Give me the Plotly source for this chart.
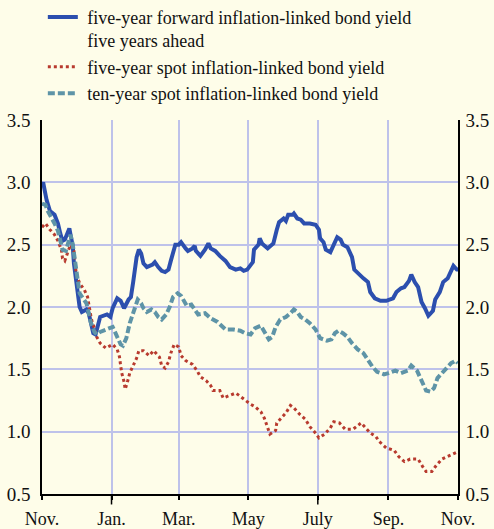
import pandas as pd
import plotly.graph_objects as go

start = pd.Timestamp("2002-11-01")

# five-year forward inflation-linked bond yield five years ahead
fwd_days = [0, 1, 4, 7, 11, 14, 16, 18, 20, 22, 24, 25, 27, 28, 30, 32, 33, 35, 39, 41, 43, 45, 47, 49,
            51, 57, 60, 62, 66, 69, 72, 76, 78, 80, 82, 83, 85, 87, 89, 92, 97, 99, 102, 105, 108, 111,
            113, 115, 117, 120, 122, 126, 128, 132, 134, 135, 139, 143, 146, 148, 152, 156, 161, 165,
            170, 174, 177, 180, 185, 186, 190, 191, 193, 198, 203, 206, 208, 212, 214, 216, 220, 221,
            224, 227, 230, 235, 240, 243, 244, 247, 249, 253, 257, 259, 262, 264, 268, 272, 274, 278,
            282, 286, 288, 292, 297, 302, 308, 311, 315, 318, 322, 324, 327, 330, 333, 336, 339, 343,
            345, 349, 352, 356, 359, 361, 364, 365]
fwd_vals = [2.97, 3.00, 2.86, 2.77, 2.74, 2.67, 2.59, 2.53, 2.54, 2.59, 2.63, 2.58, 2.49, 2.35, 2.19,
            2.08, 2.00, 1.96, 1.98, 1.95, 1.86, 1.79, 1.78, 1.86,
            1.92, 1.94, 1.92, 1.99, 2.07, 2.05, 1.99, 2.06, 2.08, 2.20, 2.32, 2.40, 2.46, 2.43, 2.35,
            2.32, 2.34, 2.36, 2.32, 2.29, 2.28, 2.30,
            2.37, 2.45, 2.50, 2.50, 2.52, 2.47, 2.45, 2.47, 2.49, 2.45, 2.41, 2.46, 2.51, 2.47, 2.45,
            2.41, 2.37, 2.32,
            2.30, 2.31, 2.29, 2.30, 2.36, 2.46, 2.50, 2.55, 2.51, 2.47, 2.51, 2.62, 2.68, 2.71, 2.69,
            2.74, 2.74, 2.75,
            2.71, 2.70, 2.67, 2.67, 2.66, 2.62, 2.55, 2.52, 2.46, 2.44, 2.52, 2.56, 2.54, 2.50, 2.48,
            2.40, 2.30, 2.26,
            2.23, 2.20, 2.12, 2.07, 2.05, 2.05, 2.07, 2.12, 2.15, 2.16, 2.21, 2.26, 2.20, 2.16, 2.04,
            1.99, 1.93, 1.97,
            2.06, 2.12, 2.20, 2.23, 2.30, 2.33, 2.30, 2.30]

# five-year spot inflation-linked bond yield
spot5_days = [0, 3, 7, 11, 14, 17, 18, 20, 23, 25, 28, 30, 33, 37, 40, 41, 43, 44, 46, 48, 51, 56, 62,
              66, 68, 69, 70, 72, 73, 75, 77, 80, 83, 85, 89, 94, 98, 103, 105, 108, 111, 113, 116,
              120, 122, 126, 132, 136, 139, 144, 148, 150, 156, 159, 164, 170, 173, 177, 183, 187,
              192, 195, 198, 200, 205, 206, 211, 214, 218, 221, 226, 231, 235, 239, 243, 248, 253,
              256, 261, 266, 273, 280, 284, 288, 293, 296, 302, 309, 313, 318, 323, 330, 334, 337,
              342, 346, 351, 356, 361, 365]
spot5_vals = [2.64, 2.67, 2.62, 2.58, 2.53, 2.46, 2.39, 2.37, 2.45, 2.50, 2.45, 2.27, 2.19, 2.14, 2.08,
              2.02, 1.92, 1.88, 1.83, 1.76, 1.71, 1.67, 1.70,
              1.66, 1.60, 1.53, 1.47, 1.40, 1.34, 1.40, 1.47, 1.53, 1.59, 1.65, 1.65, 1.61, 1.65, 1.60,
              1.53, 1.51, 1.56, 1.63, 1.70,
              1.68, 1.61, 1.57, 1.54, 1.49, 1.44, 1.41, 1.37, 1.33, 1.33, 1.27, 1.29, 1.31, 1.29, 1.26,
              1.22, 1.20,
              1.16, 1.11, 1.04, 0.98, 1.01, 1.07, 1.12, 1.15, 1.21, 1.19, 1.14, 1.10, 1.04, 1.00, 0.95,
              0.98, 1.03,
              1.08, 1.07, 1.02, 1.02, 1.07, 1.03, 0.99, 0.96, 0.92, 0.87, 0.85, 0.80, 0.76, 0.78, 0.78,
              0.72, 0.68,
              0.68, 0.73, 0.78, 0.80, 0.82, 0.84]

# ten-year spot inflation-linked bond yield
spot10_days = [0, 3, 5, 9, 11, 14, 16, 18, 21, 24, 25, 27, 29, 31, 33, 36, 39, 41, 43, 46, 48, 51, 57,
               62, 65, 69, 71, 74, 77, 81, 84, 87, 89, 92, 96, 99, 102, 105, 109, 112, 115, 119, 122,
               127, 131, 137, 143, 148, 154, 161, 168, 174, 178, 183, 187, 192, 196, 199, 202, 205,
               209, 214, 218, 221, 224, 227, 231, 235, 240, 244, 250, 254, 257, 260, 264, 268, 272,
               277, 282, 286, 290, 294, 300, 304, 310, 315, 321, 324, 329, 332, 335, 337, 341, 344,
               347, 351, 355, 359, 363, 365]
spot10_vals = [2.83, 2.82, 2.77, 2.71, 2.67, 2.61, 2.54, 2.46, 2.45, 2.55, 2.58, 2.50, 2.35, 2.22, 2.11,
               2.07, 2.03, 1.95, 1.87, 1.80, 1.78, 1.80, 1.82,
               1.84, 1.78, 1.70, 1.69, 1.75, 1.87, 1.98, 2.06, 2.03, 1.99, 1.96, 1.98, 1.96, 1.92, 1.90,
               1.94, 2.00, 2.08, 2.11, 2.09,
               2.01, 2.02, 1.94, 1.95, 1.91, 1.88, 1.82, 1.82, 1.81, 1.79, 1.78, 1.83, 1.85, 1.78, 1.74,
               1.76, 1.84,
               1.90, 1.92, 1.95, 1.98, 1.96, 1.92, 1.90, 1.87, 1.82, 1.75, 1.73, 1.74, 1.79, 1.81, 1.79,
               1.76, 1.71,
               1.66, 1.63, 1.57, 1.52, 1.48, 1.46, 1.47, 1.49, 1.47, 1.49, 1.53, 1.49, 1.43, 1.37, 1.33,
               1.32, 1.35,
               1.43, 1.47, 1.51, 1.55, 1.57, 1.55]

tick_dates = ["2002-11-01", "2003-01-01", "2003-03-01", "2003-05-01", "2003-07-01",
              "2003-09-01", "2003-11-01"]
tick_labels = ["Nov.", "Jan.", "Mar.", "May", "July", "Sep.", "Nov."]
long_tick_dates = ["2003-01-01", "2003-07-01"]
y_ticks = [0.5, 1.0, 1.5, 2.0, 2.5, 3.0, 3.5]

PAD = "\u00a0"
names = [PAD + "five-year forward inflation-linked bond yield<br>" + PAD + "five years ahead",
         PAD + "five-year spot inflation-linked bond yield",
         PAD + "ten-year spot inflation-linked bond yield"]


def to_dates(days):
    return [d.strftime("%Y-%m-%d") for d in start + pd.to_timedelta(days, unit="D")]


BG = "#FEFDE9"
BLUE = "#2C4FAE"
RED = "#B83A2E"
TEAL = "#5E94A7"
GRID = "#BEC2EA"
FONT = "Liberation Serif"

fig = go.Figure()
fig.add_trace(go.Scatter(x=to_dates(fwd_days), y=fwd_vals, mode="lines", name=names[0],
                         line=dict(color=BLUE, width=4)))
fig.add_trace(go.Scatter(x=to_dates(spot5_days), y=spot5_vals, mode="lines", name=names[1],
                         line=dict(color=RED, width=3, dash="3px,3px")))
fig.add_trace(go.Scatter(x=to_dates(spot10_days), y=spot10_vals, mode="lines", name=names[2],
                         line=dict(color=TEAL, width=4, dash="7px,3px")))
# invisible trace to activate the right-hand axis
fig.add_trace(go.Scatter(x=to_dates(fwd_days), y=fwd_vals, mode="lines", yaxis="y2",
                         showlegend=False, hoverinfo="skip", opacity=0,
                         line=dict(color=BLUE, width=1)))

for d in long_tick_dates:
    fig.add_shape(type="line", xref="x", yref="paper", x0=d, x1=d, y0=0, y1=-0.028,
                  line=dict(color="black", width=1.5))

fig.update_layout(
    width=494, height=529,
    paper_bgcolor=BG, plot_bgcolor=BG,
    margin=dict(l=42, r=36, t=120, b=35, autoexpand=False),
    font=dict(family=FONT, size=18, color="#111111"),
    showlegend=True,
    legend=dict(x=0.002, y=1.324, xanchor="left", yanchor="top", bgcolor="rgba(0,0,0,0)",
                font=dict(family=FONT, size=18, color="#111111"),
                valign="top", tracegroupgap=0),
    xaxis=dict(type="date", range=["2002-11-01", "2003-11-01"],
               tickmode="array", tickvals=tick_dates, ticktext=tick_labels,
               showgrid=True, gridcolor=GRID, gridwidth=1.5,
               showline=True, linecolor="black", linewidth=1.5,
               ticks="outside", ticklen=4, tickcolor="black", tickwidth=1.5,
               zeroline=False, tickfont=dict(size=18), automargin=False,
               ticklabelstandoff=4),
    yaxis=dict(range=[0.5, 3.5], tickvals=y_ticks, ticktext=[f"{v:.1f}" for v in y_ticks],
               showgrid=True, gridcolor=GRID, gridwidth=1.5,
               showline=True, linecolor="black", linewidth=1.5,
               ticks="", zeroline=False, tickfont=dict(size=19), ticklabelstandoff=6,
               automargin=False),
    yaxis2=dict(range=[0.5, 3.5], tickvals=y_ticks, ticktext=[f"{v:.1f}" for v in y_ticks],
                overlaying="y", side="right", showgrid=False,
                showline=True, linecolor="black", linewidth=1.5,
                ticks="", zeroline=False, tickfont=dict(size=19), ticklabelstandoff=2,
                automargin=False),
)

fig.write_html("out.html", config={"displayModeBar": False},
               post_script="document.body.style.margin='0';")
